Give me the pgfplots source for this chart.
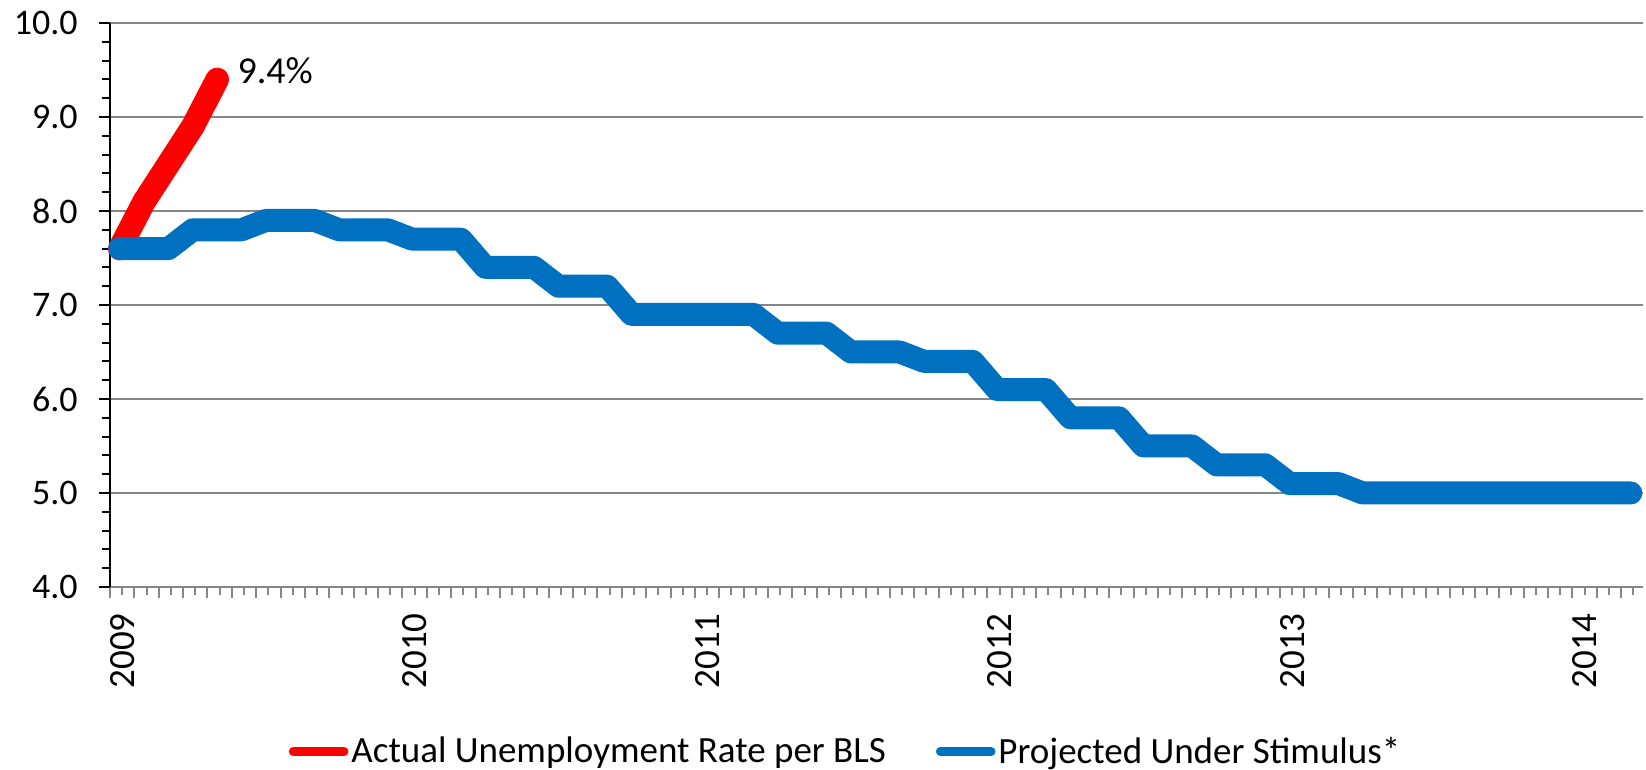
\documentclass[border=0pt]{standalone}
\usepackage{fontspec}
\setmainfont{Carlito}
\usepackage{pgfplots}
\pgfplotsset{compat=1.18}
\definecolor{rd}{HTML}{FF0000}
\definecolor{bl}{HTML}{0070C0}
\definecolor{gr}{HTML}{868686}
\begin{document}
\begin{tikzpicture}
\begin{axis}[
  name=ax,
  scale only axis,
  width=766.5pt, height=282pt,
  xmin=0, xmax=62.9, ymin=4, ymax=10,
  clip=false,
  axis x line*=bottom, axis y line*=left,
  x axis line style={draw=gr, line width=1pt, -},
  y axis line style={draw=black, line width=1pt, -},
  tick align=outside,
  major tick length=5.5pt, minor tick length=4pt,
  xtick={0,1,...,62},
  xticklabels={2009,,,,,,,,,,,,2010,,,,,,,,,,,,2011,,,,,,,,,,,,2012,,,,,,,,,,,,2013,,,,,,,,,,,,2014,,},
  minor xtick={0.5,1.5,...,62.5},
  ytick={4,5,6,7,8,9,10},
  yticklabels={4.0,5.0,6.0,7.0,8.0,9.0,10.0},
  minor y tick num=4,
  ymajorgrids,
  major grid style={draw=gr, line width=1pt},
  x tick style={draw=gr, line width=1pt},
  y tick style={draw=black, line width=1pt},
  yticklabel style={font=\fontsize{18}{21}\selectfont, anchor=east, inner sep=0pt, xshift=-10.5pt},
  xticklabel style={font=\fontsize{18.5}{21}\selectfont, yshift=-7.5pt, rotate=90, anchor=north east, inner sep=0pt},
  legend style={at={(0.1164,-0.2917)}, anchor=west, draw=none, fill=none, inner sep=0pt,
    font=\fontsize{18.5}{21}\selectfont,
    nodes={inner sep=0pt},
    /tikz/every odd column/.append style={column sep=1.5pt},
    /tikz/every even column/.append style={column sep=25pt}},
  legend columns=2,
  legend image code/.code={\draw[#1, line width=4.5pt, line cap=round] (2.2pt,0pt) -- (27.5pt,0pt);},
]
\addplot[rd, line width=11.8pt, line cap=round, line join=round] coordinates {
(0.4,7.6) (1.4,8.1) (2.4,8.5) (3.4,8.9) (4.4,9.4)
};
\addlegendentry{Actual Unemployment Rate per BLS}
\addplot[bl, line width=11.5pt, line cap=round, line join=round] coordinates {
(0.4,7.6) (1.4,7.6) (2.4,7.6)
(3.4,7.8) (4.4,7.8) (5.4,7.8)
(6.4,7.9) (7.4,7.9) (8.4,7.9)
(9.4,7.8) (10.4,7.8) (11.4,7.8)
(12.4,7.7) (13.4,7.7) (14.4,7.7)
(15.4,7.4) (16.4,7.4) (17.4,7.4)
(18.4,7.2) (19.4,7.2) (20.4,7.2)
(21.4,6.9) (22.4,6.9) (23.4,6.9)
(24.4,6.9) (25.4,6.9) (26.4,6.9)
(27.4,6.7) (28.4,6.7) (29.4,6.7)
(30.4,6.5) (31.4,6.5) (32.4,6.5)
(33.4,6.4) (34.4,6.4) (35.4,6.4)
(36.4,6.1) (37.4,6.1) (38.4,6.1)
(39.4,5.8) (40.4,5.8) (41.4,5.8)
(42.4,5.5) (43.4,5.5) (44.4,5.5)
(45.4,5.3) (46.4,5.3) (47.4,5.3)
(48.4,5.1) (49.4,5.1) (50.4,5.1)
(51.4,5.0) (52.4,5.0) (53.4,5.0)
(54.4,5.0) (55.4,5.0) (56.4,5.0)
(57.4,5.0) (58.4,5.0) (59.4,5.0)
(60.4,5.0) (61.4,5.0) (62.4,5.0)
};
\addlegendentry{Projected Under Stimulus*}
\node[anchor=west, inner sep=0pt, xshift=10pt, yshift=4.5pt, font=\fontsize{19}{21}\selectfont] at (axis cs:4.4,9.4) {9.4\%};
\end{axis}
\pgfresetboundingbox
\path[use as bounding box] ([shift={(-55pt,-91.5pt)}]ax.south west) rectangle ([shift={(1.5pt,11.5pt)}]ax.north east);
\end{tikzpicture}
\end{document}
